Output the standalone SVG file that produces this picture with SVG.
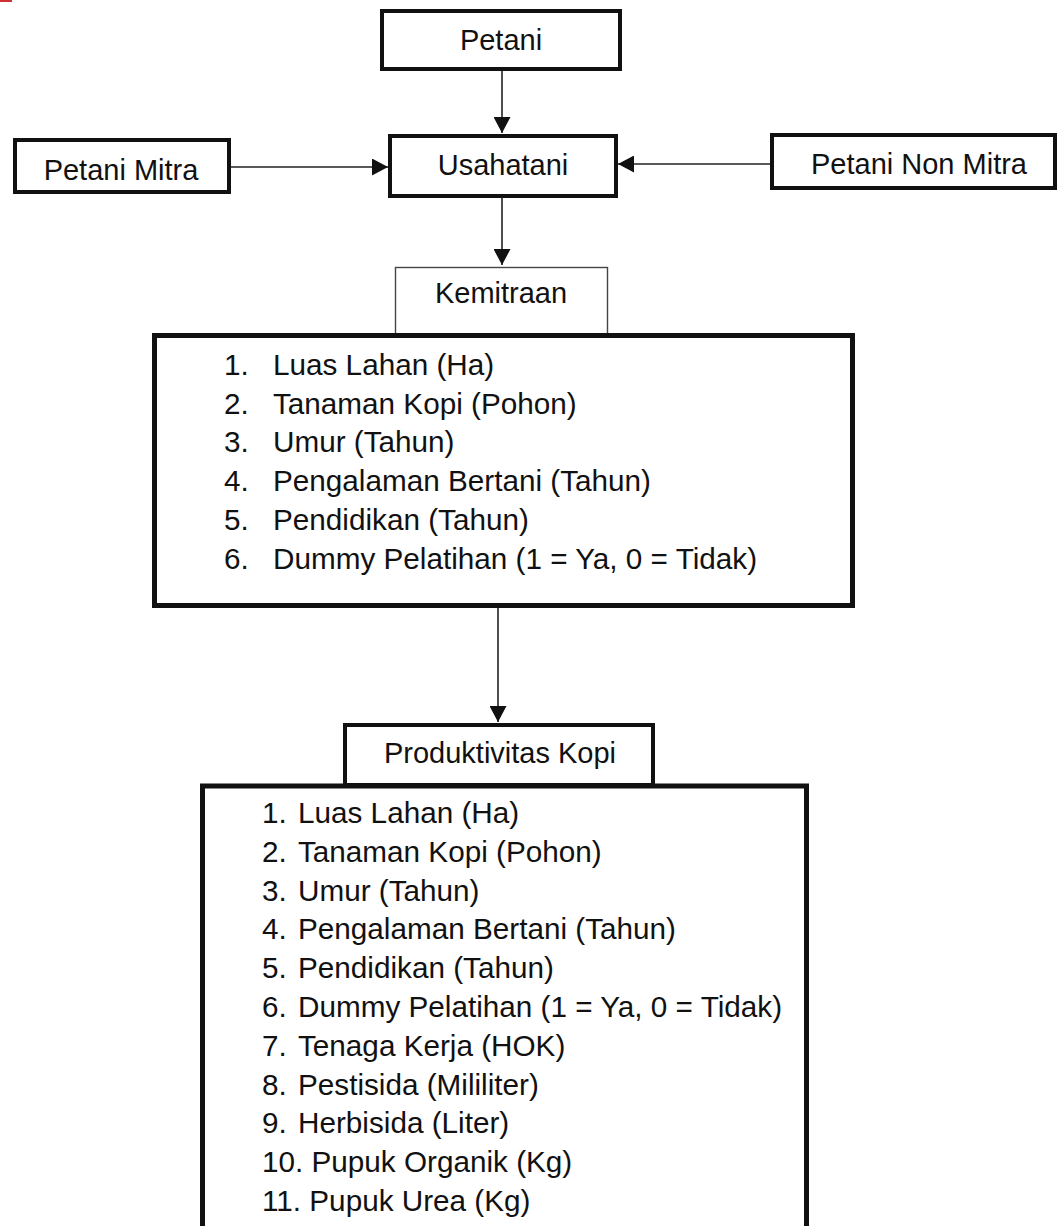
<svg xmlns="http://www.w3.org/2000/svg" width="1058" height="1226" viewBox="0 0 1058 1226">
  <defs>
    <style>
      .t { font-family: "Liberation Sans", Arial, sans-serif; font-size: 29px; fill: #111; }
      .l { font-size: 29.7px; }
      .c { text-anchor: middle; }
      .thick { fill: #fff; stroke: #111; stroke-width: 4; }
      .big { fill: #fff; stroke: #111; stroke-width: 5; }
      .thin { fill: #fff; stroke: #444; stroke-width: 1.4; }
      .conn { stroke: #222; stroke-width: 1.6; fill: none; marker-end: url(#arr); }
    </style>
    <marker id="arr" markerUnits="userSpaceOnUse" markerWidth="16" markerHeight="17" refX="16" refY="8.5" orient="auto">
      <path d="M0,0 L16,8.5 L0,17 z" fill="#111"/>
    </marker>
  </defs>
  <rect width="1058" height="1226" fill="#fff"/>
  <rect x="0" y="0" width="12" height="2" fill="#d03030"/>

  <g id="connectors">
    <line class="conn" x1="502" y1="71" x2="502" y2="133"/>
    <line class="conn" x1="502" y1="198" x2="502" y2="265"/>
    <line class="conn" x1="231" y1="167" x2="388" y2="167"/>
    <line class="conn" x1="770" y1="164" x2="618" y2="164"/>
    <line class="conn" x1="498" y1="608" x2="498" y2="722"/>
  </g>

  <g id="petani">
    <rect class="thick" x="382" y="11" width="238" height="58"/>
    <text class="t c" x="501" y="50">Petani</text>
  </g>

  <g id="usahatani">
    <rect class="thick" x="390" y="136" width="226" height="60"/>
    <text class="t c" x="503" y="175">Usahatani</text>
  </g>

  <g id="petani-mitra">
    <rect class="thick" x="15" y="140" width="214" height="52"/>
    <text class="t c" x="121" y="180">Petani Mitra</text>
  </g>

  <g id="petani-non-mitra">
    <rect class="thick" x="772" y="135" width="283" height="53"/>
    <text class="t" x="811" y="174">Petani Non Mitra</text>
  </g>

  <g id="kemitraan">
    <rect class="thin" x="395.5" y="267.5" width="212" height="70"/>
    <text class="t c" x="501" y="303">Kemitraan</text>
  </g>

  <g id="kemitraan-variabel">
    <rect class="big" x="154.5" y="335.5" width="698" height="270"/>
    <text class="t l"><tspan x="224" y="375">1.</tspan><tspan x="273" y="375">Luas Lahan (Ha)</tspan></text>
    <text class="t l"><tspan x="224" y="413.7">2.</tspan><tspan x="273" y="413.7">Tanaman Kopi (Pohon)</tspan></text>
    <text class="t l"><tspan x="224" y="452.4">3.</tspan><tspan x="273" y="452.4">Umur (Tahun)</tspan></text>
    <text class="t l"><tspan x="224" y="491.1">4.</tspan><tspan x="273" y="491.1">Pengalaman Bertani (Tahun)</tspan></text>
    <text class="t l"><tspan x="224" y="529.8">5.</tspan><tspan x="273" y="529.8">Pendidikan (Tahun)</tspan></text>
    <text class="t l"><tspan x="224" y="568.5">6.</tspan><tspan x="273" y="568.5">Dummy Pelatihan (1 = Ya, 0 = Tidak)</tspan></text>
  </g>

  <g id="produktivitas-variabel">
    <rect class="big" x="202.5" y="786" width="604" height="500"/>
    <text class="t l"><tspan x="262" y="823">1.</tspan><tspan x="298" y="823">Luas Lahan (Ha)</tspan></text>
    <text class="t l"><tspan x="262" y="861.8">2.</tspan><tspan x="298" y="861.8">Tanaman Kopi (Pohon)</tspan></text>
    <text class="t l"><tspan x="262" y="900.6">3.</tspan><tspan x="298" y="900.6">Umur (Tahun)</tspan></text>
    <text class="t l"><tspan x="262" y="939.4">4.</tspan><tspan x="298" y="939.4">Pengalaman Bertani (Tahun)</tspan></text>
    <text class="t l"><tspan x="262" y="978.2">5.</tspan><tspan x="298" y="978.2">Pendidikan (Tahun)</tspan></text>
    <text class="t l"><tspan x="262" y="1017">6.</tspan><tspan x="298" y="1017">Dummy Pelatihan (1 = Ya, 0 = Tidak)</tspan></text>
    <text class="t l"><tspan x="262" y="1055.8">7.</tspan><tspan x="298" y="1055.8">Tenaga Kerja (HOK)</tspan></text>
    <text class="t l"><tspan x="262" y="1094.6">8.</tspan><tspan x="298" y="1094.6">Pestisida (Mililiter)</tspan></text>
    <text class="t l"><tspan x="262" y="1133.4">9.</tspan><tspan x="298" y="1133.4">Herbisida (Liter)</tspan></text>
    <text class="t l" x="262" y="1172.2">10. Pupuk Organik (Kg)</text>
    <text class="t l" x="262" y="1211">11. Pupuk Urea (Kg)</text>
  </g>

  <g id="produktivitas">
    <rect class="thick" x="345" y="725" width="308" height="60"/>
    <text class="t c" x="500" y="763">Produktivitas Kopi</text>
  </g>
</svg>
